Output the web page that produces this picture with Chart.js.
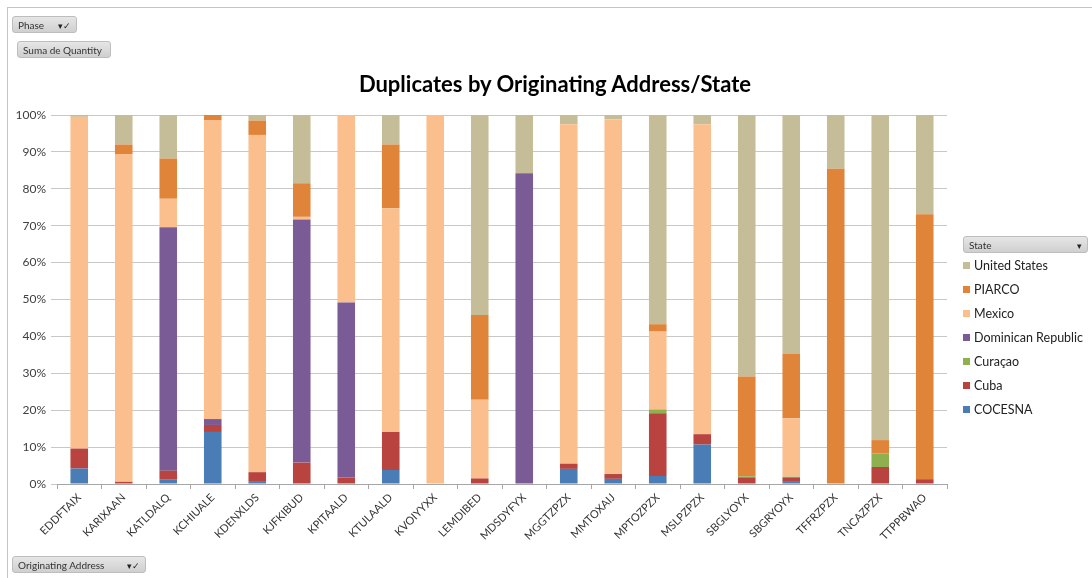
<!DOCTYPE html>
<html>
<head>
<meta charset="utf-8">
<script src="https://cdn.jsdelivr.net/npm/chart.js@4"></script>
<style>
    body { margin: 0; background: #fff; font-family: Lato, sans-serif; }
    #wrap { position: relative; width: 1092px; height: 578px; overflow: hidden; }
    #frame { position: absolute; left: 7px; top: 7px; right: -2px; bottom: -2px;
             border-top: 1px solid #c4c4c4; border-left: 1px solid #c4c4c4; }
    canvas { position: absolute; left: 0; top: 0; }
    .btn { position: absolute; height: 17px; line-height: 17px; font-size: 10px; color: #333;
           background: linear-gradient(#e6e6e6, #cfcfcf); border: 1px solid #bdbdbd;
           border-radius: 3px; padding-left: 5px; box-sizing: border-box; }
    .btn .ic { position: absolute; right: 5px; top: 0; font-size: 9px; color: #222; }
    #title { position: absolute; left: 0; width: 1110px; top: 70px; text-align: center;
             font: bold 22px Lato, sans-serif; color: #000; }
    #legend { position: absolute; left: 963px; top: 257px; font-size: 12.5px; color: #222; }
    #legend div { height: 24px; line-height: 17px; white-space: nowrap; }
    #legend span { display: inline-block; width: 7px; height: 7px; margin-right: 4px; vertical-align: 1px; }
</style>
</head>
<body>
<div id="wrap">
    <div id="frame"></div>
    <canvas id="chart" width="1092" height="578"></canvas>
    <div id="title">Duplicates by Originating Address/State</div>
    <div class="btn" style="left:12px;top:16px;width:65px;">Phase<span class="ic">▾✓</span></div>
    <div class="btn" style="left:17px;top:41px;width:94px;">Suma de Quantity</div>
    <div class="btn" style="left:12px;top:556px;width:134px;">Originating Address<span class="ic">▾✓</span></div>
    <div class="btn" style="left:963px;top:236px;width:125px;">State<span class="ic">▾</span></div>
    <div id="legend"></div>
</div>
<script>
// originating addresses
const addresses = ['EDDFTAIX', 'KARIXAAN', 'KATLDALQ', 'KCHIUALE', 'KDENXLDS', 'KJFKIBUD', 'KPITAALD',
    'KTULAALD', 'KVOIYYXX', 'LEMDIBED', 'MDSDYFYX', 'MGGTZPZX', 'MMTOXAIJ', 'MPTOZPZX', 'MSLPZPZX',
    'SBGLYOYX', 'SBGRYOYX', 'TFFRZPZX', 'TNCAZPZX', 'TTPPBWAO'];

// share of quantity per state (%)
const cocesna   = [4.2, 0,    1.3, 14.1, 0.8, 0,    0,    3.8, 0,   0,    0,    4.1, 1.4, 2.2,  10.7, 0,    0.8,  0,    0,    0];
const cuba      = [5.4, 0.6,  2.3, 1.9,  2.4, 5.8,  1.8,  10.3, 0,  1.5,  0,    1.4, 1.3, 17.0, 2.8,  1.8,  1.0,  0,    4.6,  1.3];
const curacao   = [0,   0,    0,   0,    0,   0,    0,    0,   0,   0,    0,    0,   0,   1.0,  0,    0.3,  0.2,  0,    3.7,  0];
const dominican = [0,   0,    66.0, 1.6, 0,   65.9, 47.4, 0,   0,   0,    84.2, 0,   0,   0,    0,    0,    0,    0,    0,    0];
const mexico    = [89.9, 88.8, 7.7, 80.9, 91.4, 0.7, 50.8, 60.6, 100, 21.3, 0,   92.0, 96.1, 21.1, 84.0, 0,   15.8, 0,    0,    0];
const piarco    = [0,   2.6,  10.9, 1.5, 3.9, 9.1,  0,    17.3, 0,   23.0, 0,    0,   0,   2.0,  0,    27.0, 17.4, 85.4, 3.6,  71.8];
const unitedStates = [0.5, 8.0, 11.8, 0,  1.5, 18.5, 0,    8.0, 0,   54.2, 15.8, 2.5, 1.2, 56.7, 2.5,  70.9, 64.8, 14.6, 88.1, 26.9];

const yTicks = [0, 10, 20, 30, 40, 50, 60, 70, 80, 90, 100];

const series = [
    { label: 'COCESNA', data: cocesna, color: '#4a7db6' },
    { label: 'Cuba', data: cuba, color: '#b8433f' },
    { label: 'Curaçao', data: curacao, color: '#8fb04f' },
    { label: 'Dominican Republic', data: dominican, color: '#7a5b96' },
    { label: 'Mexico', data: mexico, color: '#fbbf8d' },
    { label: 'PIARCO', data: piarco, color: '#e0843a' },
    { label: 'United States', data: unitedStates, color: '#c5bd98' }
];

// legend, top entry first like in Excel
const legend = document.getElementById('legend');
series.slice().reverse().forEach(s => {
    const row = document.createElement('div');
    row.innerHTML = '<span style="background:' + s.color + '"></span>' + s.label;
    legend.appendChild(row);
});

const ctx = document.getElementById('chart').getContext('2d');
const chart = new Chart(ctx, {
    type: 'bar',
    data: {
        labels: addresses,
        datasets: series.map(s => ({
            label: s.label,
            data: s.data,
            backgroundColor: s.color,
            borderWidth: 0,
            categoryPercentage: 1,
            barPercentage: 0.395
        }))
    },
    options: {
        responsive: false,
        animation: false,
        layout: { padding: { left: 0, right: 145, top: 115, bottom: 0 } },
        plugins: {
            legend: { display: false },
            title: { display: false },
            tooltip: { enabled: false }
        },
        scales: {
            x: {
                stacked: true,
                afterFit: scale => { scale.height = 94; },
                grid: { offset: true, drawOnChartArea: false, drawTicks: true, tickLength: 5, color: '#a6a6a6' },
                border: { color: '#a6a6a6' },
                ticks: {
                    autoSkip: false, maxRotation: 45, minRotation: 45, padding: 2,
                    color: '#333', font: { family: 'Lato', size: 11 }
                }
            },
            y: {
                stacked: true,
                min: 0, max: 100,
                afterFit: scale => { scale.width = 57; },
                afterBuildTicks: scale => { scale.ticks = yTicks.map(v => ({ value: v })); },
                grid: { color: '#c8c8c8', tickLength: 6 },
                border: { display: false },
                ticks: {
                    padding: 5, color: '#404040', font: { family: 'Lato', size: 12 },
                    callback: v => v + '%'
                }
            }
        }
    }
});
</script>
</body>
</html>
